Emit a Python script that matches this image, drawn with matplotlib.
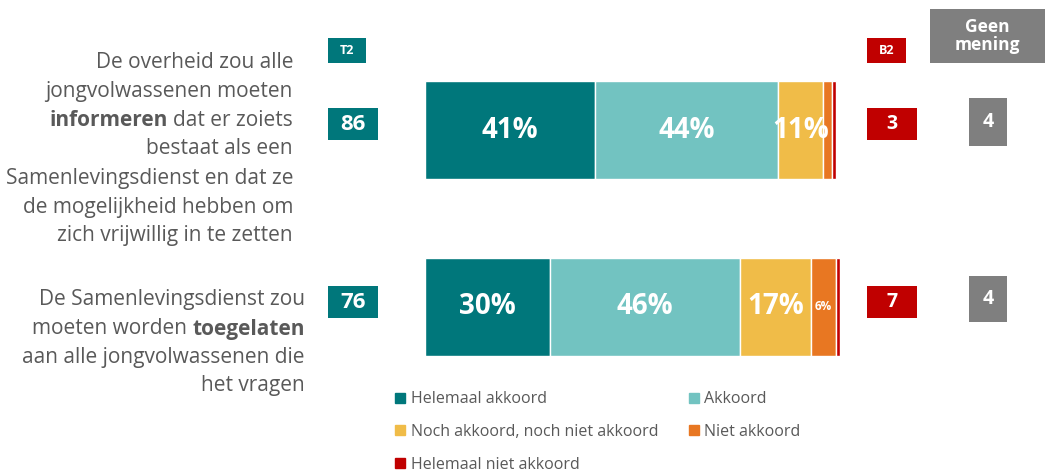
import matplotlib.pyplot as plt
from matplotlib.patches import Rectangle

# data
categories = ["informeren", "toegelaten"]
series = ["Helemaal akkoord", "Akkoord", "Noch akkoord, noch niet akkoord",
          "Niet akkoord", "Helemaal niet akkoord"]
values = [
    [41, 44, 11, 2, 1],
    [30, 46, 17, 6, 1],
]
t2 = [86, 76]
b2 = [3, 7]
geen_mening = [4, 4]

colors = ["#00777B", "#72C3C1", "#F0BC48", "#E87722", "#C00000"]
grey_txt = "#595959"
FONT = "Open Sans"

W, H = 1045, 474
fig = plt.figure(figsize=(W / 100, H / 100), dpi=100)
plt.rcParams['font.family'] = [FONT, 'DejaVu Sans']


def fx(x):
    return x / W


def fy(y):
    return 1 - y / H


# barras
ax = fig.add_axes([fx(425), fy(356), 415 / W, (356 - 81) / H])
h = 98 / 177
for i, row in enumerate(values):
    left = 0
    for j, v in enumerate(row):
        ax.barh(i, v, left=left, height=h, color=colors[j], edgecolor="white", linewidth=1)
        if v >= 5:
            size = 20 if v >= 10 else 8.5
            ax.text(left + v / 2, i, f"{v}%", ha="center", va="center",
                    color="white", fontsize=size, fontweight="bold")
        left += v
ax.set_xlim(0, 100)
ax.set_ylim(1 + h / 2, -h / 2)
ax.axis("off")


def box(x0, y0, x1, y1, color, txt, size):
    fig.patches.append(Rectangle((fx(x0), fy(y1)), (x1 - x0) / W, (y1 - y0) / H,
                                 transform=fig.transFigure, color=color, lw=0))
    fig.text(fx((x0 + x1) / 2), fy((y0 + y1) / 2), txt, ha="center", va="center",
             color="white", fontsize=size, fontweight="bold", linespacing=1.0)


# koppen
box(328, 38, 366, 63, colors[0], "T2", 9)
box(867, 38, 906, 63, colors[4], "B2", 9)
box(930, 9, 1045, 63, "#7F7F7F", "Geen\nmening", 12.5)

rows_y = [(108, 140, 98, 146), (286, 318, 276, 322)]
for i in range(len(categories)):
    y0, y1, g0, g1 = rows_y[i]
    box(328, y0, 378, y1, colors[0], str(t2[i]), 16)
    box(867, y0, 917, y1, colors[4], str(b2[i]), 14)
    box(969, g0, 1007, g1, "#7F7F7F", str(geen_mening[i]), 14)

# labels links
lsize = 15


def line(xr, y, txt, bold=None, bold_first=True):
    xr = fx(xr)
    if bold is None:
        fig.text(xr, fy(y), txt, ha="right", va="center", color=grey_txt, fontsize=lsize)
        return
    if bold_first:
        t = fig.text(xr, fy(y), txt, ha="right", va="center", color=grey_txt, fontsize=lsize)
        fig.add_artist(plt.Annotation(bold, xy=(0, 0), xycoords=t, xytext=(-4, 0),
                                      textcoords="offset points", ha="right", va="bottom",
                                      color=grey_txt, fontsize=lsize, fontweight="bold"))
    else:
        t = fig.text(xr, fy(y), bold, ha="right", va="center", color=grey_txt,
                     fontsize=lsize, fontweight="bold")
        fig.add_artist(plt.Annotation(txt, xy=(0, 0), xycoords=t, xytext=(-4, 0),
                                      textcoords="offset points", ha="right", va="bottom",
                                      color=grey_txt, fontsize=lsize))


line(293, 62, "De overheid zou alle")
line(293, 91, "jongvolwassenen moeten")
line(293, 120, "dat er zoiets", bold="informeren")
line(293, 149, "bestaat als een")
line(293, 178, "Samenlevingsdienst en dat ze")
line(293, 207, "de mogelijkheid hebben om")
line(293, 236, "zich vrijwillig in te zetten")

line(305, 300, "De Samenlevingsdienst zou")
line(305, 329, "moeten worden", bold="toegelaten", bold_first=False)
line(305, 358, "aan alle jongvolwassenen die")
line(305, 386, "het vragen")

# legende
handles = [Rectangle((0, 0), 1, 1, color=c) for c in colors]
order = [0, 2, 4, 1, 3]
leg = fig.legend([handles[k] for k in order], [series[k] for k in order],
                 ncol=2, loc="upper left", bbox_to_anchor=(fx(381), fy(377)),
                 frameon=False, fontsize=11.5, handlelength=0.6, handleheight=0.6,
                 handletextpad=0.35, columnspacing=1.95, labelspacing=1.04)
for t in leg.get_texts():
    t.set_color(grey_txt)

fig.savefig("out.png", dpi=100)
